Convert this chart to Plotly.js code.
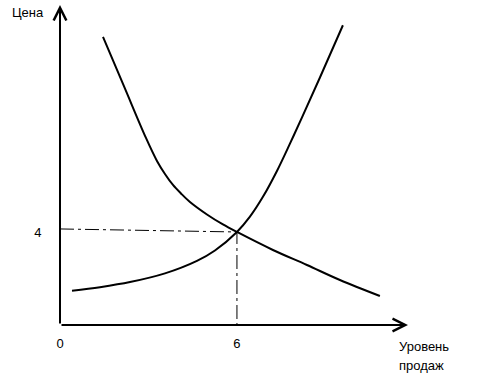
<!DOCTYPE html>
<html>
<head>
<meta charset="utf-8">
<script src="https://cdn.plot.ly/plotly-3.0.1.min.js"></script>
<style>html,body{margin:0;padding:0;background:#fff;}#chart{width:479px;height:386px;}</style>
</head>
<body>
<div id="chart"></div>
<script>
// Demand curve (falling)
const demandX = [1.458, 2.186, 2.915, 3.288, 3.559, 3.831, 4.102, 4.407, 4.983, 5.525, 6.000, 7.220, 8.373, 9.492, 10.847];
const demandY = [12.387, 10.215, 8.043, 7.054, 6.495, 6.022, 5.656, 5.290, 4.753, 4.323, 4.000, 3.226, 2.581, 1.935, 1.247];
// Supply curve (rising)
const supplyX = [0.407, 1.356, 2.373, 3.559, 4.644, 5.254, 6.000, 6.441, 6.881, 7.356, 7.797, 8.237, 8.814, 9.593];
const supplyY = [1.471, 1.626, 1.845, 2.219, 2.757, 3.204, 4.000, 4.658, 5.510, 6.624, 7.798, 9.015, 10.641, 12.890];
// Guide (dash-dot) lines to the equilibrium point
const guideX = [0, 6, 6];
const guideY = [4.13, 4, 0];
// Tick labels
const xTickVals = [0, 6];
const xTickText = ['0', '6'];
const yTickVals = [4];
const yTickText = ['4'];
// Axis titles
const yTitle = 'Цена';
const xTitleLines = ['Уровень', 'продаж'];
const xMax = 11.8, yMax = 13.76;

const font = {family: 'Liberation Sans, Arial, sans-serif', size: 13, color: '#000'};

const traces = [
  {x: demandX, y: demandY, mode: 'lines', line: {color: '#000', width: 2, shape: 'spline', smoothing: 1}, hoverinfo: 'skip'},
  {x: supplyX, y: supplyY, mode: 'lines', line: {color: '#000', width: 2, shape: 'spline', smoothing: 1}, hoverinfo: 'skip'},
  {x: guideX, y: guideY, mode: 'lines', line: {color: '#000', width: 1, dash: '14px,4px,3px,4px'}, hoverinfo: 'skip'}
];

const annotations = [
  {x: 0, y: yMax, ax: 0, ay: 0, xref: 'x', yref: 'y', axref: 'x', ayref: 'y', text: '', showarrow: true,
   arrowhead: 5, arrowsize: 1.25, arrowwidth: 2, arrowcolor: '#000', standoff: 0},
  {x: xMax, y: 0, ax: 0, ay: 0, xref: 'x', yref: 'y', axref: 'x', ayref: 'y', text: '', showarrow: true,
   arrowhead: 5, arrowsize: 1.25, arrowwidth: 2, arrowcolor: '#000', standoff: 0},
  {x: -0.092, y: 0.978, xref: 'paper', yref: 'paper', text: yTitle, showarrow: false, xanchor: 'center', yanchor: 'middle', font: font}
];
xTitleLines.forEach((t, i) => {
  annotations.push({x: 0.968, y: -0.068 - i * 0.059, xref: 'paper', yref: 'paper', text: t, showarrow: false,
                    xanchor: 'left', yanchor: 'middle', align: 'left', font: font});
});

const layout = {
  width: 479, height: 386,
  margin: {l: 60, r: 71, t: 5, b: 61},
  paper_bgcolor: '#fff', plot_bgcolor: '#fff',
  showlegend: false,
  font: font,
  xaxis: {range: [0, xMax], tickvals: xTickVals, ticktext: xTickText, ticks: 'outside', ticklen: 6,
          tickcolor: 'rgba(0,0,0,0)', showgrid: false, zeroline: false, showline: false, tickfont: font, fixedrange: true},
  yaxis: {range: [0, yMax], tickvals: yTickVals, ticktext: yTickText, ticks: 'outside', ticklen: 15,
          tickcolor: 'rgba(0,0,0,0)', showgrid: false, zeroline: false, showline: false, tickfont: font, fixedrange: true},
  annotations: annotations
};

Plotly.newPlot('chart', traces, layout, {staticPlot: true, displayModeBar: false});
</script>
</body>
</html>
